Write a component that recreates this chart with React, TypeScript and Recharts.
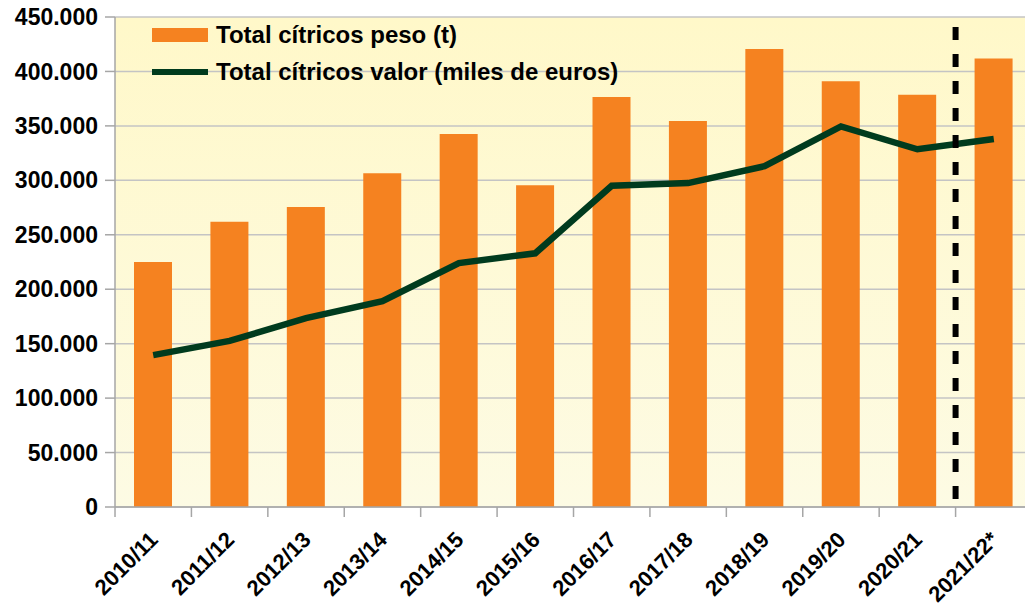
import { ComposedChart, Bar, Line, XAxis, YAxis, CartesianGrid, ReferenceLine } from 'recharts';

const campaigns = ['2010/11', '2011/12', '2012/13', '2013/14', '2014/15', '2015/16', '2016/17', '2017/18', '2018/19', '2019/20', '2020/21', '2021/22*'];
const pesoT = [225000, 262000, 275500, 306500, 342500, 295500, 376500, 354500, 420500, 391000, 378500, 412000];
const valorMilesEuros = [139500, 152500, 173500, 189000, 224000, 233000, 295000, 297500, 313000, 349500, 328500, 338000];
const yTicks = [0, 50000, 100000, 150000, 200000, 250000, 300000, 350000, 400000, 450000];

const data = campaigns.map((c, i) => ({ campaign: c, peso: pesoT[i], valor: valorMilesEuros[i] }));

const FONT = '"Liberation Sans", Arial, sans-serif';
const ORANGE = '#f58220';
const GREEN = '#003b1e';
const HALF_BAND = 38.2;

const fmt = (n: number) => String(n).replace(/\B(?=(\d{3})+(?!\d))/g, '.');

function XTick({ x, y, payload }: any) {
  const tx = x + 6;
  const ty = y + 24;
  return (
    <g>
      <line x1={x - HALF_BAND} x2={x - HALF_BAND} y1={y - 10} y2={y} stroke="#a6a6a6" strokeWidth={1.5} />
      <text x={tx} y={ty} transform={`rotate(-45, ${tx}, ${ty})`} textAnchor="end" fontFamily={FONT} fontWeight="bold" fontSize={22} fill="#000">
        {payload.value}
      </text>
    </g>
  );
}

function LegendBox() {
  const row = { display: 'flex', alignItems: 'center', height: 37 } as const;
  const txt = { fontFamily: FONT, fontWeight: 'bold', fontSize: 24, color: '#000', marginLeft: 8, lineHeight: '24px' } as const;
  return (
    <div style={{ position: 'absolute', left: 152, top: 16 }}>
      <div style={row}>
        <div style={{ width: 56, height: 14, background: ORANGE }} />
        <span style={txt}>Total cítricos peso (t)</span>
      </div>
      <div style={row}>
        <div style={{ width: 56, height: 6, background: GREEN }} />
        <span style={txt}>Total cítricos valor (miles de euros)</span>
      </div>
    </div>
  );
}

export default function App() {
  return (
    <div style={{ position: 'fixed', left: 0, top: 0, width: 1025, height: 604, overflow: 'hidden', background: '#fff' }}>
      <ComposedChart width={1040} height={604} data={data} margin={{ top: 17, right: 8, left: 0, bottom: 0 }} barSize={38}>
        <defs>
          <linearGradient id="bg" x1="0" y1="0" x2="0" y2="1">
            <stop offset="0%" stopColor="#fff8c9" />
            <stop offset="100%" stopColor="#fdfbe4" />
          </linearGradient>
        </defs>
        <CartesianGrid vertical={false} stroke="#c4c4c4" strokeWidth={1.5} fill="url(#bg)" />
        <XAxis
          dataKey="campaign"
          height={97}
          interval={0}
          tickSize={10}
          tickMargin={0}
          tickLine={false}
          axisLine={{ stroke: '#a6a6a6', strokeWidth: 1.5 }}
          tick={<XTick />}
        />
        <YAxis
          width={115}
          domain={[0, 450000]}
          ticks={yTicks}
          tickFormatter={fmt}
          tickSize={10}
          tickMargin={7}
          axisLine={{ stroke: '#a6a6a6', strokeWidth: 1.5 }}
          tickLine={{ stroke: '#a6a6a6', strokeWidth: 1.5 }}
          tick={{ fontFamily: FONT, fontWeight: 'bold', fontSize: 23, fill: '#000' }}
        />
        <Bar dataKey="peso" name="Total cítricos peso (t)" fill={ORANGE} isAnimationActive={false} />
        <Line
          dataKey="valor"
          name="Total cítricos valor (miles de euros)"
          stroke={GREEN}
          strokeWidth={6.5}
          dot={false}
          activeDot={false}
          isAnimationActive={false}
        />
        <ReferenceLine x="2021/22*" position="start" stroke="#000" strokeWidth={6} strokeDasharray="13 14" strokeDashoffset={-8} />
      </ComposedChart>
      <LegendBox />
    </div>
  );
}
